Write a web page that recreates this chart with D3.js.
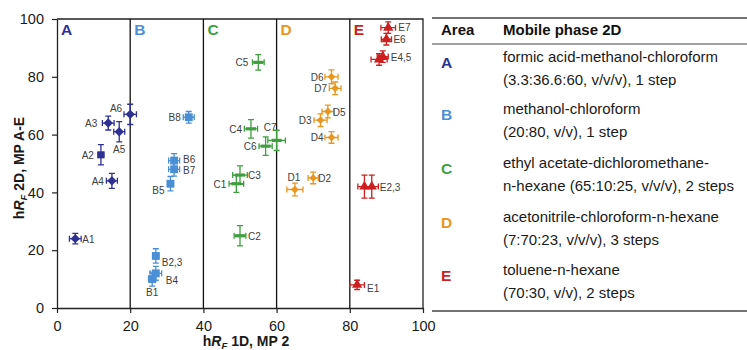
<!DOCTYPE html>
<html>
<head>
<meta charset="utf-8">
<script src="https://cdn.jsdelivr.net/npm/d3@7"></script>
<style>
  body { margin: 0; background: #fff; }
  svg { font-family: 'Liberation Sans', Arial, sans-serif; }
</style>
</head>
<body>
<svg id="chart" width="747" height="350"></svg>
<script>
// [label, x, y, xErr, yErr] -- label '' means the point is not labelled
const seriesA = [
  ['A1', 5, 24, 1.6, 1.8],
  ['A2', 12, 53, 0.8, 3.5],
  ['A3', 14, 64, 1.6, 2.4],
  ['A4', 15, 44, 1.5, 2.6],
  ['A5', 17, 61, 1.5, 3.5],
  ['A6', 20, 67, 1.7, 3.5]
];
const seriesB = [
  ['B1', 26, 10, 1.0, 2.4],
  ['B2,3', 27, 18, 0.8, 2.5],
  ['B4', 27, 12, 1.6, 2.4],
  ['B5', 31, 43, 0.8, 2.5],
  ['B6', 32, 51, 1.5, 2.4],
  ['B7', 32, 48, 1.5, 2.4],
  ['B8', 36, 66, 1.5, 2.0]
];
const seriesC = [
  ['C1', 49, 43, 2.0, 3.0],
  ['C2', 50, 25, 1.6, 3.5],
  ['C3', 50, 46, 2.0, 3.2],
  ['C4', 53, 62, 1.8, 3.2],
  ['C5', 55, 85, 1.6, 2.7],
  ['C6', 57, 56, 1.8, 3.2],
  ['C7', 60, 58, 2.4, 3.5]
];
const seriesD = [
  ['D1', 65, 41, 2.2, 2.2],
  ['D2', 70, 45, 1.4, 2.0],
  ['D3', 72, 65, 1.8, 2.2],
  ['D4', 75, 59, 1.8, 2.0],
  ['D5', 74, 68, 1.6, 2.2],
  ['D6', 75, 80, 1.8, 2.4],
  ['D7', 76, 76, 1.6, 2.2]
];
const seriesE = [
  ['E1', 82, 8, 2.0, 1.6],
  ['', 84, 42, 1.8, 4.0],
  ['E2,3', 86, 42, 1.8, 4.0],
  ['', 88, 86, 2.2, 2.0],
  ['E4,5', 89, 87, 1.5, 2.0],
  ['E6', 90, 93, 1.4, 2.0],
  ['E7', 90.5, 97, 2.0, 2.0]
];

const areas = ['A', 'B', 'C', 'D', 'E'];
const areaStarts = [0, 20, 40, 60, 80];
const boundaries = [20, 40, 60, 80];
const tickValues = [0, 20, 40, 60, 80, 100];

const mobilePhases = [
  ['formic acid-methanol-chloroform', '(3.3:36.6:60, v/v/v), 1 step'],
  ['methanol-chloroform', '(20:80, v/v), 1 step'],
  ['ethyl acetate-dichloromethane-', 'n-hexane (65:10:25, v/v/v), 2 steps'],
  ['acetonitrile-chloroform-n-hexane', '(7:70:23, v/v/v), 3 steps'],
  ['toluene-n-hexane', '(70:30, v/v), 2 steps']
];

const colors = ['#2e3192', '#4a8fd6', '#3f9f3f', '#e8961e', '#cc1f1f'];
const shapes = ['diamond', 'square', 'dash', 'diamond', 'triangle'];

// label placement relative to marker centre [dx, dy, anchor]
const labelPlace = {
  A1: [7, 4, 'start'], A2: [-7, 4, 'end'], A3: [-11, 4, 'end'], A4: [-8, 4, 'end'],
  A5: [0, 21, 'middle'], A6: [-8, -2, 'end'],
  B1: [0, 17, 'middle'], 'B2,3': [6, 10, 'start'], B4: [10, 11, 'start'], B5: [-6, 10, 'end'],
  B6: [9, 2, 'start'], B7: [9, 5, 'start'], B8: [-8, 4, 'end'],
  C1: [-10, 4, 'end'], C2: [8, 4, 'start'], C3: [8, 4, 'start'], C4: [-9, 4, 'end'],
  C5: [-10, 4, 'end'], C6: [-9, 4, 'end'], C7: [0, -9, 'end'],
  D1: [-1, -9, 'middle'], D2: [5, 4, 'start'], D3: [-9, 4, 'end'], D4: [-8, 4, 'end'],
  D5: [5, 5, 'start'], D6: [-8, 4, 'end'], D7: [-8, 4, 'end'],
  E1: [10, 7, 'start'], 'E2,3': [8, 4, 'start'], 'E4,5': [8, 4, 'start'],
  E6: [7, 4, 'start'], E7: [10, 3, 'start']
};

const svg = d3.select('#chart');
const margin = { left: 57, top: 19, right: 423, bottom: 308 };

const x = d3.scaleLinear().domain([0, 100]).range([margin.left, margin.right]);
const y = d3.scaleLinear().domain([0, 100]).range([margin.bottom, margin.top]);

svg.append('rect').attr('width', 747).attr('height', 350).attr('fill', '#fff');

// frame top + right
svg.append('path')
  .attr('d', `M${x(0)},${y(100)}H${x(100)}V${y(0)}`)
  .attr('fill', 'none').attr('stroke', '#222').attr('stroke-width', 1.3);

svg.selectAll('line.bound')
  .data(boundaries)
  .enter().append('line')
  .attr('class', 'bound')
  .attr('x1', (d) => x(d)).attr('x2', (d) => x(d))
  .attr('y1', y(100)).attr('y2', y(0))
  .attr('stroke', '#111').attr('stroke-width', 1.3);

const yAxis = svg.append('g')
  .attr('transform', `translate(${x(0)},0)`)
  .call(d3.axisLeft(y).tickValues(tickValues).tickSize(5).tickPadding(8).tickSizeOuter(0));
const xAxis = svg.append('g')
  .attr('transform', `translate(0,${y(0)})`)
  .call(d3.axisBottom(x).tickValues(tickValues).tickSize(5).tickPadding(8).tickSizeOuter(0));
[xAxis, yAxis].forEach((g) => {
  g.select('.domain').attr('stroke', '#222').attr('stroke-width', 1.3);
  g.selectAll('.tick line').attr('stroke', '#222').attr('stroke-width', 1.2);
  g.selectAll('.tick text').attr('font-size', 14.5).attr('fill', '#1a1a1a')
    .attr('font-family', "'Liberation Sans', Arial, sans-serif");
});

// area letters
svg.selectAll('text.area')
  .data(areas)
  .enter().append('text')
  .attr('class', 'area')
  .attr('x', (d, i) => x(areaStarts[i]) + 4)
  .attr('y', 35)
  .attr('font-size', 15.5).attr('font-weight', 'bold')
  .attr('fill', (d, i) => colors[i])
  .text((d) => d);

function hRF(sel, rest) {
  sel.append('tspan').text('h');
  sel.append('tspan').attr('font-style', 'italic').text('R');
  sel.append('tspan').attr('font-style', 'italic').attr('font-size', 9.5).attr('dy', 3).text('F');
  sel.append('tspan').attr('dy', -3).text(rest);
}

const xTitle = svg.append('text')
  .attr('x', 246).attr('y', 346)
  .attr('text-anchor', 'middle')
  .attr('font-size', 14).attr('font-weight', 'bold').attr('fill', '#1a1a1a');
hRF(xTitle, ' 1D, MP 2');

const yTitle = svg.append('text')
  .attr('transform', 'translate(24,168) rotate(-90)')
  .attr('text-anchor', 'middle')
  .attr('font-size', 14).attr('font-weight', 'bold').attr('fill', '#1a1a1a');
hRF(yTitle, ' 2D, MP A-E');

const allSeries = [seriesA, seriesB, seriesC, seriesD, seriesE];
const cap = 3;

allSeries.forEach((series, si) => {
  const color = colors[si];
  const g = svg.append('g').attr('class', 'series-' + areas[si]);
  const pts = g.selectAll('g.pt')
    .data(series)
    .enter().append('g')
    .attr('class', 'pt');

  // error bars
  pts.append('path')
    .attr('d', (d) => {
      const cx = x(d[1]), cy = y(d[2]);
      const x0 = x(d[1] - d[3]), x1 = x(d[1] + d[3]);
      const y0 = y(d[2] - d[4]), y1 = y(d[2] + d[4]);
      return `M${x0},${cy}H${x1}M${x0},${cy - cap}V${cy + cap}M${x1},${cy - cap}V${cy + cap}` +
        `M${cx},${y0}V${y1}M${cx - cap},${y0}H${cx + cap}M${cx - cap},${y1}H${cx + cap}`;
    })
    .attr('fill', 'none').attr('stroke', color).attr('stroke-width', 1.3);

  // markers
  const shape = shapes[si];
  if (shape === 'dash') {
    pts.append('rect')
      .attr('x', (d) => x(d[1]) - 5).attr('y', (d) => y(d[2]) - 1.6)
      .attr('width', 10).attr('height', 3.2)
      .attr('fill', color);
  } else {
    const sym = shape === 'triangle' ? d3.symbolTriangle : d3.symbolSquare;
    const size = shape === 'square' ? 62 : shape === 'triangle' ? 46 : (si === 0 ? 44 : 30);
    pts.append('path')
      .attr('d', (d) => {
        const s = (si === 0 && d[0] === 'A2') ? 50 : size;
        return d3.symbol().type(sym).size(s)();
      })
      .attr('transform', (d) => {
        const rot = shape === 'diamond' && d[0] !== 'A2' ? ' rotate(45)' : '';
        return `translate(${x(d[1])},${y(d[2])})${rot}`;
      })
      .attr('fill', color);
  }

  // point labels
  pts.filter((d) => d[0] !== '')
    .append('text')
    .attr('x', (d) => x(d[1]) + labelPlace[d[0]][0])
    .attr('y', (d) => y(d[2]) + labelPlace[d[0]][1])
    .attr('text-anchor', (d) => labelPlace[d[0]][2])
    .attr('font-size', 10).attr('fill', '#404040')
    .text((d) => d[0]);
});

// table on the right
const table = svg.append('g').attr('class', 'table');
const tLeft = 432, tRight = 747;
[18, 44, 311].forEach((ty, i) => {
  table.append('line')
    .attr('x1', tLeft).attr('x2', tRight).attr('y1', ty).attr('y2', ty)
    .attr('stroke', '#444').attr('stroke-width', i === 1 ? 1.2 : 1.6);
});
table.append('text').attr('x', 441).attr('y', 35)
  .attr('font-size', 15).attr('font-weight', 'bold').attr('fill', '#111').text('Area');
table.append('text').attr('x', 503).attr('y', 35)
  .attr('font-size', 15).attr('font-weight', 'bold').attr('fill', '#111').text('Mobile phase 2D');

const rowTop = [62, 114, 168, 222, 275];
const rows = table.selectAll('g.row')
  .data(areas)
  .enter().append('g')
  .attr('class', 'row');
rows.append('text')
  .attr('x', 441).attr('y', (d, i) => rowTop[i] + 6)
  .attr('font-size', 15.5).attr('font-weight', 'bold')
  .attr('fill', (d, i) => colors[i])
  .text((d) => d);
rows.each(function (d, i) {
  mobilePhases[i].forEach((line, li) => {
    d3.select(this).append('text')
      .attr('x', 503).attr('y', rowTop[i] + li * 22.5)
      .attr('font-size', 15).attr('fill', '#1a1a1a')
      .text(line);
  });
});
</script>
</body>
</html>
